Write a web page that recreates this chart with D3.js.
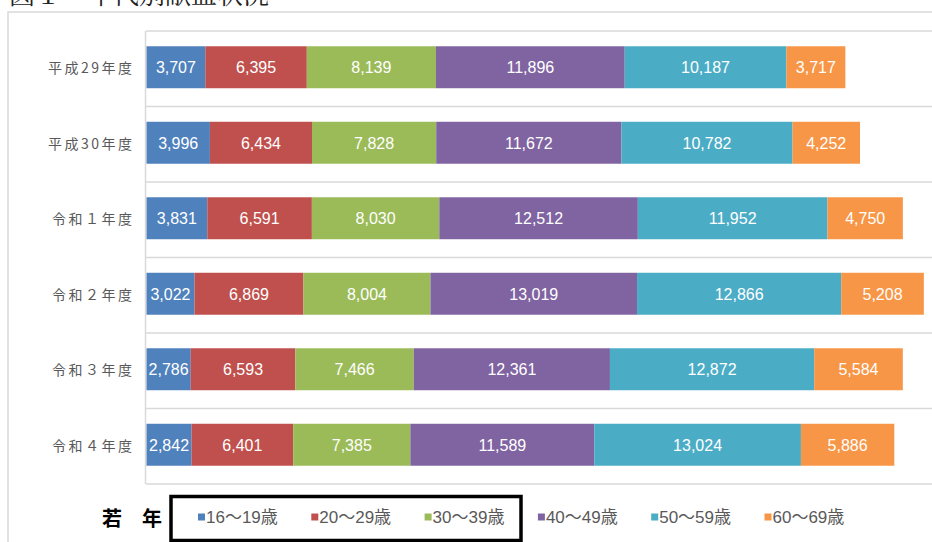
<!DOCTYPE html>
<html><head><meta charset="utf-8">
<script src="https://cdn.jsdelivr.net/npm/d3@7/dist/d3.min.js"></script>
<style>
html,body{margin:0;padding:0;background:#fff;}
svg{display:block;}
</style></head>
<body>
<svg id="chart" width="932" height="542"></svg>
<script>
const title = "図１　年代別献血状況";
const categories = ["平成29年度","平成30年度","令和１年度","令和２年度","令和３年度","令和４年度"];
const seriesNames = ["16～19歳","20～29歳","30～39歳","40～49歳","50～59歳","60～69歳"];
const colors = ["#4F81BD","#C0504D","#9BBB59","#8064A2","#4BACC6","#F79646"];
const age16_19 = [3707,3996,3831,3022,2786,2842];
const age20_29 = [6395,6434,6591,6869,6593,6401];
const age30_39 = [8139,7828,8030,8004,7466,7385];
const age40_49 = [11896,11672,12512,13019,12361,11589];
const age50_59 = [10187,10782,11952,12866,12872,13024];
const age60_69 = [3717,4252,4750,5208,5584,5886];
const xMax = 50000;
const legendTitle = "若　年";

const seriesValues = [age16_19,age20_29,age30_39,age40_49,age50_59,age60_69];
const rows = categories.map((c,i)=>{
  const o = {cat:c};
  seriesNames.forEach((s,j)=>{o[s]=seriesValues[j][i];});
  return o;
});
const stacked = d3.stack().keys(seriesNames)(rows);

const svg = d3.select("#chart");
const plotL = 146, plotT = 31, plotB = 484;

// title (partly cut off at top)
svg.append("text").attr("x",9).attr("y",4)
  .attr("font-family","'Noto Serif CJK JP','Noto Sans CJK JP',serif")
  .attr("font-size",26).attr("fill","#222").text(title);

// outer chart frame
svg.append("rect").attr("x",8).attr("y",12).attr("width",940).attr("height",560)
  .attr("fill","none").attr("stroke","#d9d9d9").attr("stroke-width",1.5);

const x = d3.scaleLinear().domain([0,xMax]).range([plotL+0.5, plotL+0.5+793.4]);
const y = d3.scaleBand().domain(categories).range([plotT-1.5, plotB-1.5]).paddingInner(0.444).paddingOuter(0.222);
const yGrid = d3.scaleBand().domain(categories).range([plotT, plotB]);

// gridlines (category separators)
const gridY = categories.map(c=>yGrid(c)).concat([plotB]);
svg.append("g").selectAll("line").data(gridY).join("line")
  .attr("x1",plotL).attr("x2",940).attr("y1",d=>d).attr("y2",d=>d)
  .attr("stroke","#d9d9d9").attr("stroke-width",1.5);
svg.append("line").attr("x1",plotL-0.5).attr("x2",plotL-0.5).attr("y1",plotT).attr("y2",plotB)
  .attr("stroke","#d9d9d9").attr("stroke-width",1.5);

// y axis labels
const yAxis = d3.axisLeft(yGrid).tickSize(0).tickPadding(0);
const ga = svg.append("g").attr("transform",`translate(${plotL-14},0)`).call(yAxis);
ga.select(".domain").remove();
ga.selectAll("text").attr("font-family","'Noto Sans CJK JP',sans-serif")
  .attr("font-size",14).attr("fill","#595959").attr("letter-spacing","2.5px")
  .attr("dx","2.5px");

// clip
svg.append("clipPath").attr("id","plotclip").append("rect")
  .attr("x",plotL).attr("y",plotT).attr("width",800).attr("height",plotB-plotT);

const g = svg.append("g").attr("clip-path","url(#plotclip)");
stacked.forEach((layer,j)=>{
  const lg = g.append("g");
  lg.selectAll("rect").data(layer).join("rect")
    .attr("x",d=>x(d[0])).attr("width",d=>x(d[1])-x(d[0]))
    .attr("y",d=>y(d.data.cat)).attr("height",y.bandwidth())
    .attr("fill",colors[j]);
  lg.selectAll("text").data(layer).join("text")
    .attr("x",d=>(x(d[0])+x(d[1]))/2)
    .attr("y",d=>y(d.data.cat)+y.bandwidth()/2)
    .attr("dy","0.36em").attr("text-anchor","middle")
    .attr("font-family","'Liberation Sans',Arial,sans-serif").attr("font-size",16)
    .attr("fill","#fff").text(d=>d3.format(",")(d[1]-d[0]));
});

// legend
svg.append("text").attr("x",102).attr("y",519).attr("dy","0.36em")
  .attr("font-family","'Noto Sans CJK JP',sans-serif").attr("font-weight","bold")
  .attr("font-size",20).attr("fill","#000").text(legendTitle);
svg.append("rect").attr("x",171).attr("y",496.5).attr("width",350).attr("height",44)
  .attr("fill","none").attr("stroke","#000").attr("stroke-width",3.5);
const lgX = d3.scalePoint().domain(seriesNames).range([198, 198+113.3*5]);
const leg = svg.append("g").selectAll("g").data(seriesNames).join("g")
  .attr("transform",d=>`translate(${lgX(d)},517)`);
leg.append("rect").attr("x",0).attr("y",-3.5).attr("width",7).attr("height",7)
  .attr("fill",(d,i)=>colors[i]);
leg.append("text").attr("x",8).attr("y",0).attr("dy","0.36em")
  .attr("font-family","'Liberation Sans','Noto Sans CJK JP',sans-serif")
  .attr("font-size",17).attr("fill","#595959").text(d=>d);
</script>
</body></html>
